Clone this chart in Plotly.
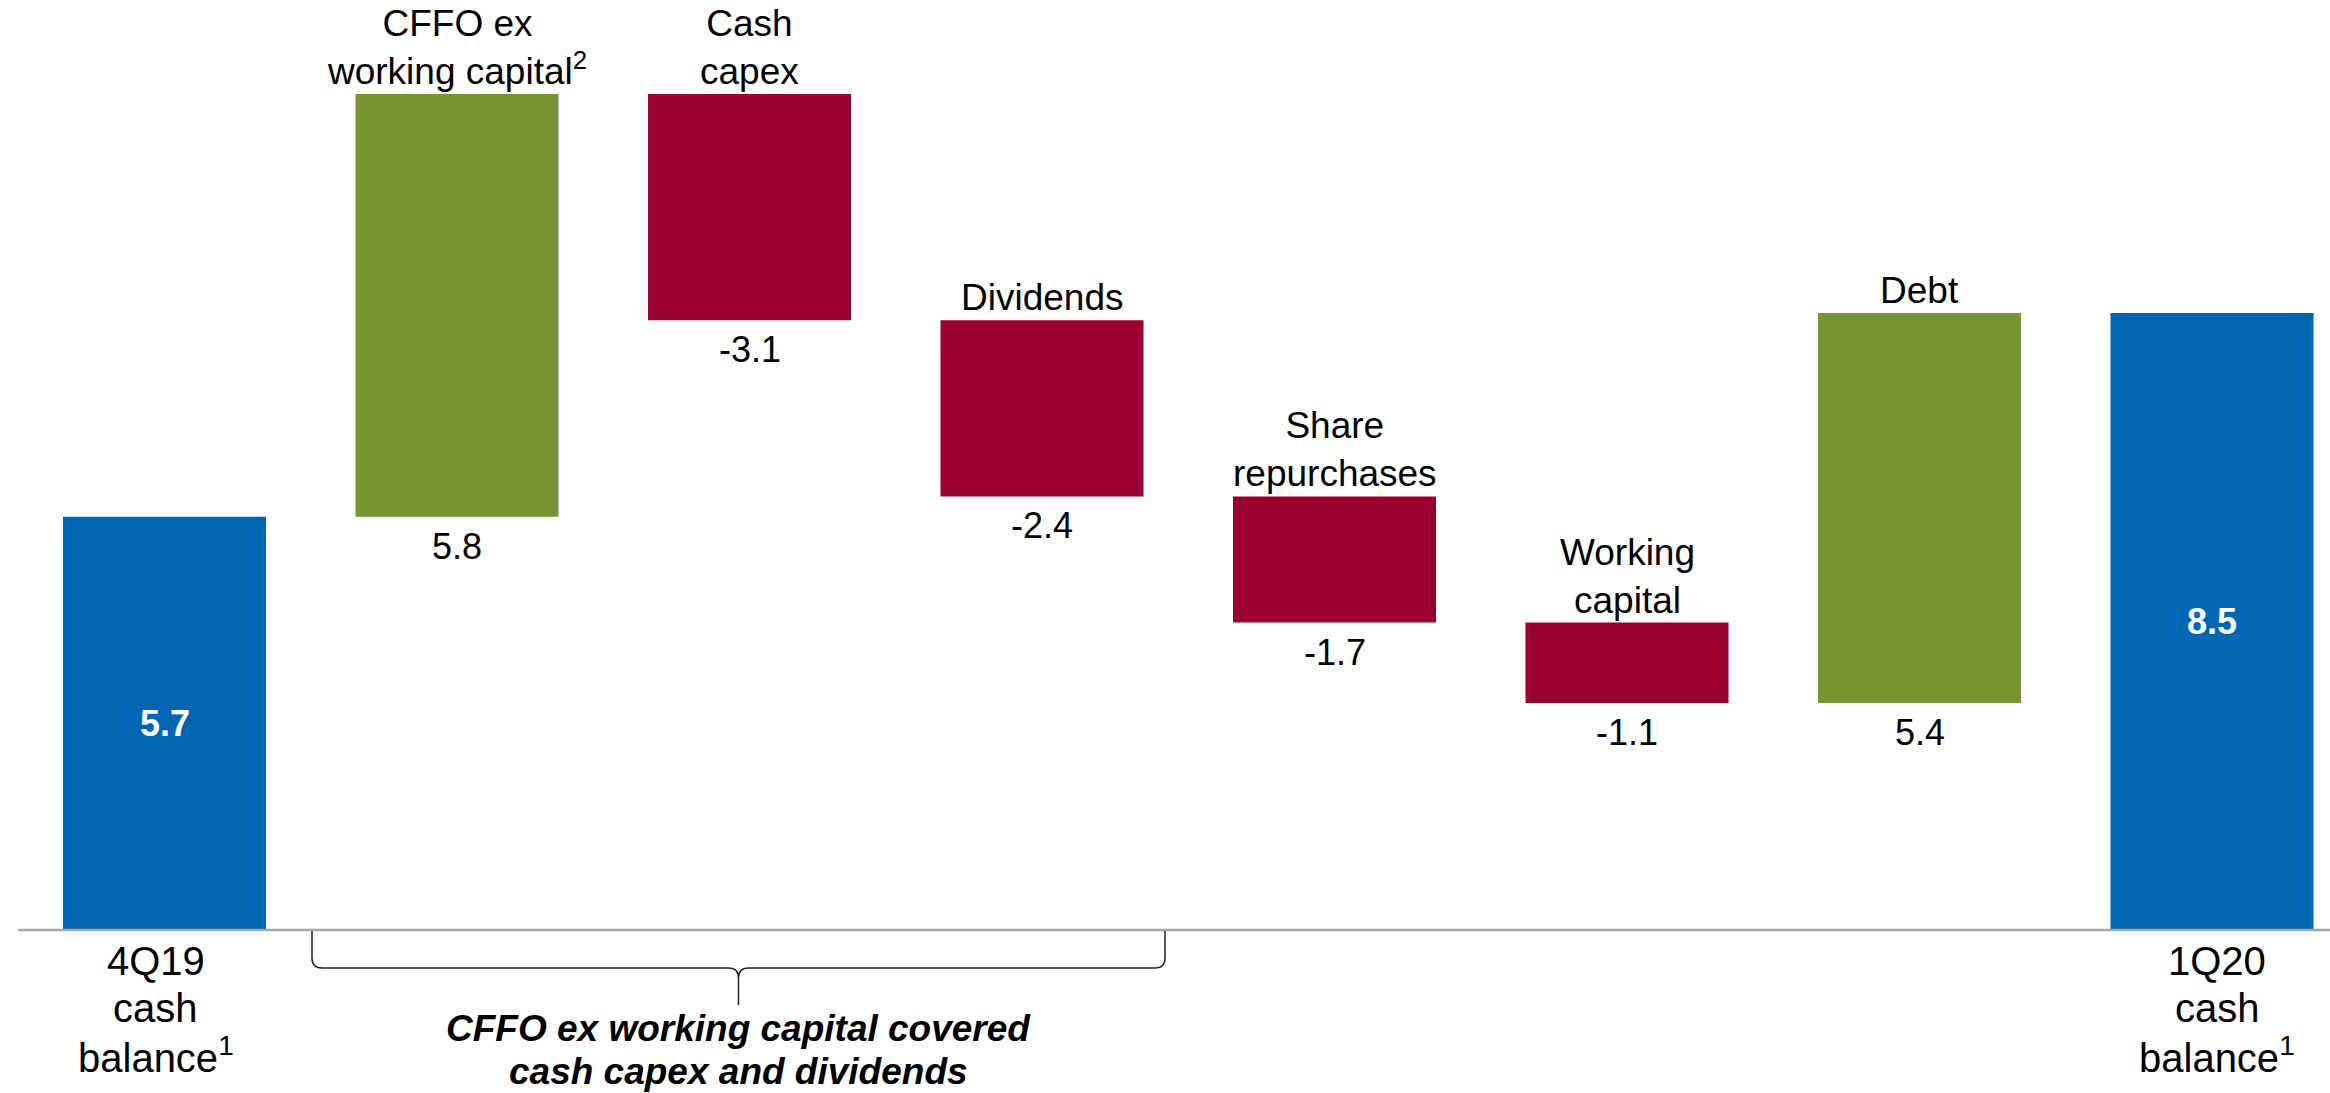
import plotly.graph_objects as go

# ---------------- data ----------------
steps = ["4Q19 cash balance", "CFFO ex working capital", "Cash capex", "Dividends",
         "Share repurchases", "Working capital", "Debt", "1Q20 cash balance"]
# values (labels show them rounded to one decimal)
values = [5.70, 5.83, -3.12, -2.43, -1.74, -1.11, 5.38, 8.51]
measures = ["absolute", "relative", "relative", "relative",
            "relative", "relative", "relative", "absolute"]
top_labels = ["", "CFFO ex<br>working capital<sup>2</sup>", "Cash<br>capex", "Dividends",
              "Share<br>repurchases", "Working<br>capital", "Debt", ""]
bottom_labels = [["4Q19", "cash", "balance<sup>1</sup>"], None, None, None, None, None, None,
                 ["1Q20", "cash", "balance<sup>1</sup>"]]
brace_text = ["CFFO ex working capital covered", "cash capex and dividends"]

# ---------------- layout constants ----------------
W, H = 2330, 1093
ZERO_PX = 930.0          # pixel row of the baseline
PX_PER_UNIT = 72.5       # vertical pixels per unit
X0_PX, STEP_PX = 164.5, 292.5
BAR_W = 0.694
FONT = "Liberation Sans, Arial, sans-serif"
BLUE, GREEN, RED = "#0066b2", "#789433", "#990030"


def py(p):
    """pixel row -> data y"""
    return (ZERO_PX - p) / PX_PER_UNIT


def px_x(p):
    return (p - X0_PX) / STEP_PX


xs = list(range(len(steps)))

fig = go.Figure(go.Waterfall(
    x=xs, y=values, measure=measures,
    width=BAR_W,
    increasing=dict(marker=dict(color=GREEN, line=dict(width=0))),
    decreasing=dict(marker=dict(color=RED, line=dict(width=0))),
    totals=dict(marker=dict(color=BLUE, line=dict(width=0))),
    connector=dict(visible=False),
    hoverinfo="skip", textinfo="none",
))

annotations = []
cum = 0.0
for i, (v, m) in enumerate(zip(values, measures)):
    if m == "absolute":
        lo, hi = 0.0, v
        cum = v
        annotations.append(dict(x=i, y=v / 2, text=f"<b>{v:.1f}</b>", showarrow=False,
                                font=dict(size=36, color="white", family=FONT),
                                xanchor="center", yanchor="middle"))
    else:
        start, cum = cum, cum + v
        lo, hi = min(start, cum), max(start, cum)
        annotations.append(dict(x=i, y=lo, text=f"{v:.1f}", showarrow=False,
                                font=dict(size=36, color="black", family=FONT),
                                xanchor="center", yanchor="top", yshift=-7))
    if top_labels[i]:
        annotations.append(dict(x=i, y=hi, text=top_labels[i], showarrow=False,
                                font=dict(size=37, color="black", family=FONT),
                                xanchor="center", yanchor="bottom"))
    if bottom_labels[i]:
        shift = -9 if i == 0 else 5
        for k, line in enumerate(bottom_labels[i]):
            annotations.append(dict(x=i, y=py(961 + 47 * k), text=line, showarrow=False,
                                    font=dict(size=40, color="black", family=FONT),
                                    xanchor="center", yanchor="middle", xshift=shift))

# brace text
bx0, bx1 = px_x(312), px_x(1165)
bxc = (bx0 + bx1) / 2
for k, line in enumerate(brace_text):
    annotations.append(dict(x=bxc, y=py(1028 + 43 * k), text=f"<b><i>{line}</i></b>",
                            showarrow=False, font=dict(size=37, color="black", family=FONT),
                            xanchor="center", yanchor="middle"))

# brace path
yt, yh, ytip = py(931), py(968), py(1005)
dx, dy = 10 / STEP_PX, 10 / PX_PER_UNIT
path = (f"M {bx0},{yt} L {bx0},{yh + dy} Q {bx0},{yh} {bx0 + dx},{yh} "
        f"L {bxc - dx},{yh} Q {bxc},{yh} {bxc},{yh - dy} L {bxc},{ytip} "
        f"M {bxc},{yh - dy} Q {bxc},{yh} {bxc + dx},{yh} "
        f"L {bx1 - dx},{yh} Q {bx1},{yh} {bx1},{yh + dy} L {bx1},{yt}")

x_lo = px_x(0)
x_hi = px_x(W)
shapes = [
    dict(type="line", xref="x", yref="y", x0=-0.5, x1=x_hi, y0=0, y1=0,
         line=dict(color="#a6a6a6", width=2.5), layer="above"),
    dict(type="path", xref="x", yref="y", path=path,
         line=dict(color="#222222", width=1.5)),
]

fig.update_layout(
    width=W, height=H, autosize=False,
    margin=dict(l=0, r=0, t=0, b=0, pad=0),
    paper_bgcolor="white", plot_bgcolor="white",
    showlegend=False,
    xaxis=dict(range=[x_lo, x_hi], visible=False, fixedrange=True),
    yaxis=dict(range=[py(H), py(0)], visible=False, fixedrange=True),
    annotations=annotations, shapes=shapes,
    font=dict(family=FONT),
)

fig.write_html("out.html")
